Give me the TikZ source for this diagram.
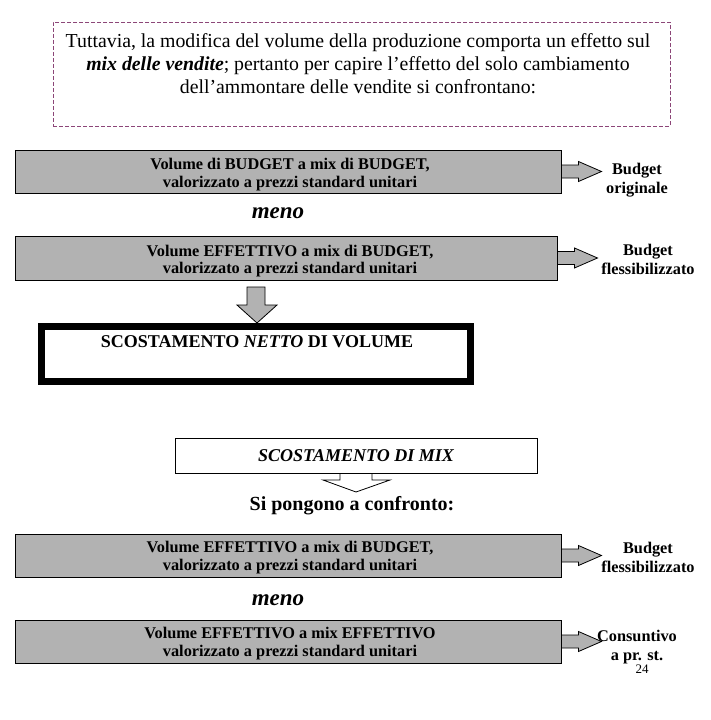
\documentclass[tikz,border=0pt]{standalone}
\usepackage{fontspec}
\setmainfont{Liberation Serif}
\definecolor{boxgray}{RGB}{178,178,178}
\definecolor{dashpurple}{RGB}{140,70,120}
\tikzset{
  graybox/.style={draw=black, line width=1pt, fill=boxgray, inner sep=0pt},
  boxtext/.style={inner sep=0pt, align=center, font=\fontsize{16.3}{17.5}\selectfont\bfseries},
  sidelabel/.style={align=center, inner sep=0pt, font=\fontsize{16.3}{19}\selectfont\bfseries},
  menolabel/.style={inner sep=0pt, font=\fontsize{23}{24}\selectfont\bfseries\itshape},
  blockarrow/.style={draw=black, line width=0.8pt, fill=boxgray},
}
\newcommand{\rightblock}[1]{%
  \draw[blockarrow] ([yshift=6.5pt]#1.east) -- ++(17,0) -- ++(0,-3.5) -- ++(23,10)
    -- ++(-23,10) -- ++(0,-3.5) -- ++(-17,0) -- cycle;}
\begin{document}
\begin{tikzpicture}[x=1pt,y=-1pt]
\useasboundingbox[fill=white] (0,0) rectangle (710,720);

% top dashed text box
\node[draw=dashpurple, dash pattern=on 4pt off 2pt, line width=0.8pt,
      minimum width=617pt, minimum height=104pt, inner sep=0pt] (intro) at (361.5,74) {};
\node[align=center, inner sep=0pt, font=\fontsize{19.8}{23}\selectfont] (introtext) at (358,64)
  {Tuttavia, la modifica del volume della produzione comporta un effetto sul\\
   \textbf{\textit{mix delle vendite}}; pertanto per capire l'effetto del solo cambiamento\\
   dell'ammontare delle vendite si confrontano:};

% first comparison
\node[graybox, minimum width=546pt, minimum height=43pt] (b1) at (288,171.5) {};
\node[boxtext] (t1) at ([xshift=2pt,yshift=-3pt]b1.center)
  {Volume di BUDGET a mix di BUDGET,\\ valorizzato a prezzi standard unitari};
\rightblock{b1}
\node[sidelabel] (l1) at (637,180) {Budget\\originale};

\node[menolabel] (meno1) at (278,213) {meno};

\node[graybox, minimum width=542pt, minimum height=44pt] (b2) at (286,258) {};
\node[boxtext] (t2) at ([xshift=4pt,yshift=-3pt]b2.center)
  {Volume EFFETTIVO a mix di BUDGET,\\ valorizzato a prezzi standard unitari};
\rightblock{b2}
\node[sidelabel] (l2) at (648,259) {Budget\\flessibilizzato};

% result box
\node[draw=black, line width=7pt, minimum width=429pt, minimum height=55pt, inner sep=0pt] (netto) at (256,354) {};
\node[inner sep=0pt, font=\fontsize{18}{20}\selectfont\bfseries] (nettotext) at (257,342)
  {SCOSTAMENTO \textit{NETTO} DI VOLUME};

% down gray arrow
\draw[blockarrow] (247,287) -- (265,287) -- (265,305) -- (277,305) -- (257,323)
  -- (237,305) -- (247,305) -- cycle;

% mix box
\draw[blockarrow, fill=white] (340,470) -- (340,480) -- (323,480) -- (356,492) -- (390,480)
  -- (372,480) -- (372,470) -- cycle;
\node[draw=black, line width=0.8pt, fill=white, minimum width=362pt, minimum height=35pt, inner sep=0pt,
  font=\fontsize{18}{20}\selectfont\bfseries\itshape] (mix) at (356,455.5) {SCOSTAMENTO DI MIX};

\node[inner sep=0pt, font=\fontsize{20}{22}\selectfont\bfseries] (confronto) at (352,506)
  {Si pongono a confronto:};

% second comparison
\node[graybox, minimum width=546pt, minimum height=43pt] (b3) at (288,555.5) {};
\node[boxtext] (t3) at ([xshift=2pt,yshift=-2pt]b3.center)
  {Volume EFFETTIVO a mix di BUDGET,\\ valorizzato a prezzi standard unitari};
\rightblock{b3}
\node[sidelabel] (l3) at (648,557) {Budget\\flessibilizzato};

\node[menolabel] (meno2) at (278,600) {meno};

\node[graybox, minimum width=546pt, minimum height=43pt] (b4) at (288,641.5) {};
\node[boxtext] (t4) at ([xshift=2pt,yshift=-2pt]b4.center)
  {Volume EFFETTIVO a mix EFFETTIVO\\ valorizzato a prezzi standard unitari};
\rightblock{b4}
\node[sidelabel] (l4) at (637,647) {Consuntivo\\a pr. st.};
\node[inner sep=0pt, font=\fontsize{13}{14}\selectfont] (page) at (642,669) {24};
\end{tikzpicture}
\end{document}
